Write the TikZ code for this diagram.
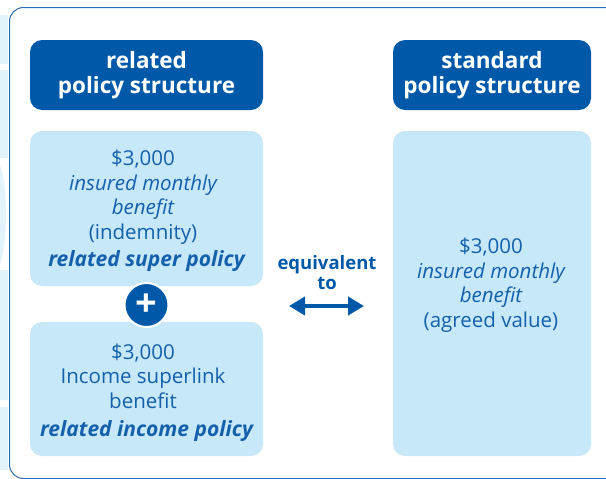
\documentclass[tikz,border=0pt]{standalone}
\usepackage{fontspec}
\setmainfont{Open Sans}
\usetikzlibrary{arrows.meta}
\definecolor{darkblue}{HTML}{0059A8}
\definecolor{lightblue}{HTML}{C6E8F8}
\definecolor{txtblue}{HTML}{1560AA}
\definecolor{frameblue}{HTML}{2B6DB5}
\definecolor{decoblue}{HTML}{E3F3FB}
\tikzset{
  hdr/.style={fill=darkblue, rounded corners=12pt, inner sep=0pt, text=white,
    font=\fontsize{22.5}{25}\selectfont\bfseries, align=center},
  lbox/.style={fill=lightblue, rounded corners=12pt, inner sep=0pt},
  btxt/.style={text=txtblue, align=center, inner sep=0pt,
    font=\fontsize{20.5}{24.5}\selectfont},
  bbtxt/.style={text=txtblue, align=center, inner sep=0pt,
    font=\fontsize{21}{24}\selectfont\bfseries\itshape},
  plusc/.style={circle, fill=darkblue, draw=white, line width=2pt,
    minimum size=44pt, inner sep=0pt, text=white,
    font=\fontsize{38}{38}\selectfont\bfseries},
  eqarrow/.style={draw=darkblue, line width=4pt,
    {Triangle[length=16pt,width=18pt]}-{Triangle[length=16pt,width=18pt]}},
  frame/.style={draw=frameblue, line width=1pt, rounded corners=14pt}
}
\begin{document}
\begin{tikzpicture}[x=1pt,y=-1pt]
\useasboundingbox (0,0) rectangle (606,479);
% left decoration
\fill[decoblue] (0,15) rectangle (8,64);
\fill[decoblue] (0,70) rectangle (8,158);
\fill[decoblue] (0,165) .. controls (8,185) and (8,240) .. (0,265) -- cycle;
\fill[decoblue] (0,270) rectangle (8,400);
\fill[decoblue] (0,407) rectangle (8,470);
% frame
\draw[frame] (9.5,478.5) -- (9.5,7.5) -- (620,7.5) -- (620,478.5) -- cycle;
% headers
\node[hdr, minimum width=233pt, minimum height=70pt] (h1) at (146.5,75) {related\\policy structure};
\node[hdr, minimum width=198pt, minimum height=70pt] (h2) at (492,75) {standard\\policy structure};
% boxes
\node[lbox, minimum width=233pt, minimum height=155pt] (b1) at (146.5,208.5) {};
\node[lbox, minimum width=233pt, minimum height=134pt] (b2) at (146.5,389) {};
\node[lbox, minimum width=198pt, minimum height=325pt] (b3) at (492,293.5) {};
% texts
\node[btxt] (t1) at (143,197) {\$3,000\\\itshape insured monthly\\\itshape benefit\\(indemnity)};
\node[bbtxt] (t1b) at (146.5,261) {related super policy};
\node[btxt] (t2) at (143,376) {\$3,000\\Income superlink\\benefit};
\node[bbtxt] (t2b) at (146.5,431) {related income policy};
\node[btxt] (t3) at (491,285) {\$3,000\\\itshape insured monthly\\\itshape benefit\\(agreed value)};
% plus
\node[plusc] (plus) at (146.5,305) {+};
% equivalent
\node[text=darkblue, align=center, inner sep=0pt, font=\fontsize{18.5}{20}\selectfont\bfseries] (eq) at (327,273) {equivalent\\to};
\coordinate (al) at (289,306);
\coordinate (ar) at (364,306);
\draw[eqarrow] (al) -- (ar);
\end{tikzpicture}
\end{document}
